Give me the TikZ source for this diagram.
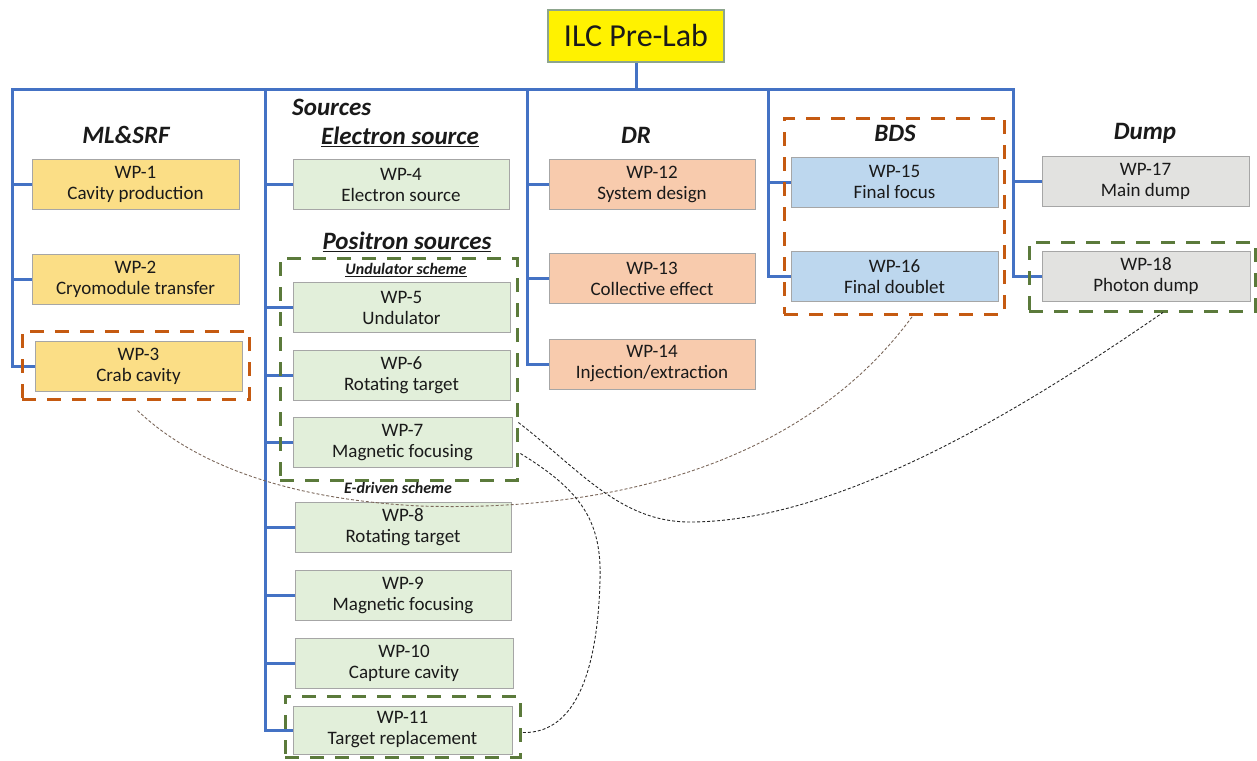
\documentclass[tikz,border=0pt]{standalone}
\usepackage{fontspec}
\setmainfont{Carlito}
\definecolor{busblue}{HTML}{4472C4}
\definecolor{mlfill}{HTML}{FBDE86}
\definecolor{srcfill}{HTML}{E2EFDA}
\definecolor{drfill}{HTML}{F8CBAD}
\definecolor{bdsfill}{HTML}{BDD7EE}
\definecolor{dumpfill}{HTML}{E2E2E0}
\definecolor{boxline}{HTML}{A6A6A6}
\definecolor{txt}{HTML}{1A1A1A}
\definecolor{grporange}{HTML}{C55A11}
\definecolor{grpgreen}{HTML}{5B7A3B}
\definecolor{titleline}{HTML}{8DA58D}
\definecolor{linkbrown}{HTML}{7B675A}
\pgfdeclarelayer{bg}
\pgfsetlayers{bg,main}
\begin{document}
\begin{tikzpicture}[x=1pt,y=-1pt,
  wp/.style={draw=boxline,line width=0.8pt,minimum width=207pt,minimum height=50pt,
    align=center,font=\fontsize{19}{21}\selectfont,text=txt,inner sep=0pt},
  mlbox/.style={wp,fill=mlfill},
  srcbox/.style={wp,fill=srcfill,minimum width=217pt},
  drbox/.style={wp,fill=drfill,minimum width=206pt},
  bdsbox/.style={wp,fill=bdsfill},
  dumpbox/.style={wp,fill=dumpfill},
  bus/.style={draw=busblue,line width=3pt},
  grp/.style={draw,dash pattern=on 14pt off 11pt,line width=3pt,inner sep=0pt},
  sect/.style={font=\fontsize{25}{28}\selectfont\bfseries\itshape,text=txt,inner sep=1pt},
  sublabel/.style={font=\fontsize{16}{18}\selectfont\bfseries\itshape,text=txt,inner sep=1pt},
  link/.style={line width=0.9pt,dash pattern=on 3pt off 2pt,draw=black!85}
]
\useasboundingbox (0,0) rectangle (1257,760);

% title
\node[draw=titleline,line width=1.2pt,fill=yellow,minimum width=176pt,minimum height=52pt,
  font=\fontsize{32}{36}\selectfont,text=txt,inner sep=0pt] (title) at (636,36) {ILC Pre-Lab};

% section labels
\node[sect] (lML) at (126,135) {ML\&SRF};
\node[sect,anchor=west] (lSrc) at (291,107) {Sources};
\node[sect] (lEl) at (400,137) {\underline{Electron source}};
\node[sect] (lPos) at (407,242) {\underline{Positron sources}};
\node[sublabel] (lUnd) at (406,270) {\underline{Undulator scheme}};
\node[sublabel] (lEd) at (398,488) {E-driven scheme};
\node[sect] (lDR) at (636,135) {DR};
\node[sect] (lBDS) at (895,133) {BDS};
\node[sect] (lDump) at (1145,133) {Dump};

% ML & SRF
\node[mlbox] (wp1) at (135.5,184.5) {WP-1\\Cavity production};
\node[mlbox] (wp2) at (135.5,279) {WP-2\\Cryomodule transfer};
\node[mlbox] (wp3) at (138.5,366.5) {WP-3\\Crab cavity};
% Sources
\node[srcbox,minimum width=216pt] (wp4) at (401,184.5) {WP-4\\Electron source};
\node[srcbox] (wp5) at (401.5,307.5) {WP-5\\Undulator};
\node[srcbox] (wp6) at (401.5,375) {WP-6\\Rotating target};
\node[srcbox,minimum width=219pt] (wp7) at (402.5,442.5) {WP-7\\Magnetic focusing};
\node[srcbox,minimum width=216pt] (wp8) at (403,527) {WP-8\\Rotating target};
\node[srcbox,minimum width=216pt] (wp9) at (403,595) {WP-9\\Magnetic focusing};
\node[srcbox,minimum width=218pt] (wp10) at (404,663) {WP-10\\Capture cavity};
\node[srcbox,minimum width=219pt,minimum height=48pt] (wp11) at (402.5,730) {WP-11\\Target replacement};
% DR
\node[drbox] (wp12) at (652,184.5) {WP-12\\System design};
\node[drbox] (wp13) at (652,278.5) {WP-13\\Collective effect};
\node[drbox] (wp14) at (652,364) {WP-14\\Injection/extraction};
% BDS
\node[bdsbox] (wp15) at (894.5,182) {WP-15\\Final focus};
\node[bdsbox] (wp16) at (894.5,276.5) {WP-16\\Final doublet};
% Dump
\node[dumpbox] (wp17) at (1145.5,181.5) {WP-17\\Main dump};
\node[dumpbox,minimum width=208pt] (wp18) at (1146,276) {WP-18\\Photon dump};

% bus structure
\coordinate (bML) at (12,89);
\coordinate (bSrc) at (265,89);
\coordinate (bDR) at (527,89);
\coordinate (bBDS) at (768,89);
\coordinate (bDump) at (1013,89);
\begin{pgfonlayer}{bg}
\draw[bus,line cap=rect] (bML) -- (bDump);
\draw[bus] (title) -- (title |- bML);
\draw[bus] (bML) |- (wp3);
\draw[bus] (bML |- wp1) -- (wp1);
\draw[bus] (bML |- wp2) -- (wp2);
\draw[bus] (bSrc) |- (wp11);
\foreach \n in {wp4,wp5,wp6,wp7,wp8,wp9,wp10} \draw[bus] (bSrc |- \n) -- (\n);
\draw[bus] (bDR) |- (wp14);
\draw[bus] (bDR |- wp12) -- (wp12);
\draw[bus] (bDR |- wp13) -- (wp13);
\draw[bus] (bBDS) |- (wp16);
\draw[bus] (bBDS |- wp15) -- (wp15);
\draw[bus] (bDump) |- (wp18);
\draw[bus] (bDump |- wp17) -- (wp17);
\end{pgfonlayer}

% dashed groups
\node[grp,draw=grporange,minimum width=227pt,minimum height=68pt] (g3) at (135.5,365) {};
\node[grp,draw=grpgreen,minimum width=237pt,minimum height=222pt] (gPos) at (398.5,369) {};
\node[grp,draw=grpgreen,minimum width=235pt,minimum height=61pt] (g11) at (402.5,726.5) {};
\node[grp,draw=grporange,minimum width=220pt,minimum height=196pt] (gBDS) at (894,216) {};
\node[grp,draw=grpgreen,minimum width=226pt,minimum height=69pt] (gDump) at (1142,276.5) {};

% dashed links
\draw[link,draw=linkbrown] ([xshift=2pt,yshift=-10pt]g3.south)
  .. controls (200,470) and (300,500) .. (420,506)
  .. controls (600,512) and (800,470) .. ([xshift=19pt]gBDS.south);
\draw[link] ([xshift=6pt,yshift=20pt]wp7.east)
  .. controls (580,470) and (620,522) .. (690,522)
  .. controls (850,522) and (1050,390) .. ([xshift=21pt]gDump.south);
\draw[link] ([xshift=8pt,yshift=-11pt]wp7.east)
  .. controls (580,490) and (602,520) .. (600,580)
  .. controls (598,660) and (580,735) .. ([yshift=-6pt]g11.east);
\end{tikzpicture}
\end{document}
